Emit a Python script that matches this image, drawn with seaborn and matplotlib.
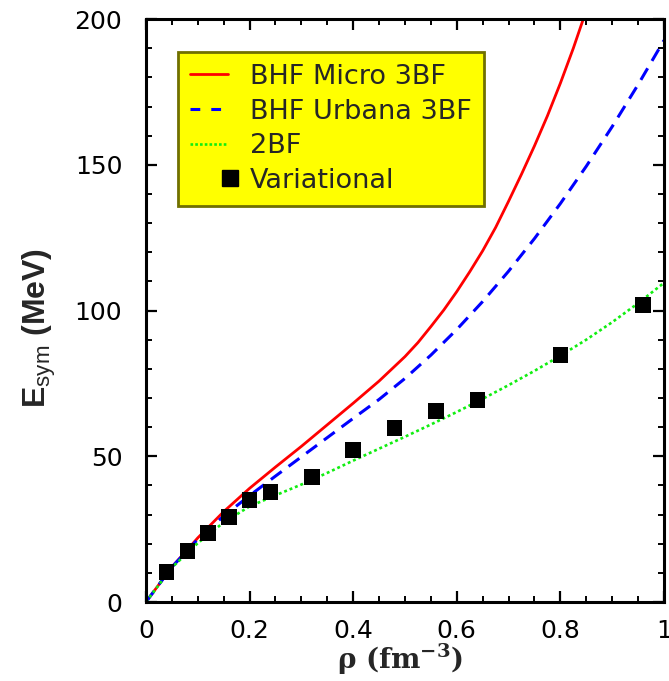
import numpy as np
import pandas as pd
import matplotlib
matplotlib.use("Agg")
import matplotlib.pyplot as plt
from matplotlib.lines import Line2D
from matplotlib.legend_handler import HandlerLine2D
from matplotlib.ticker import MultipleLocator
import seaborn as sns

# density grid (fm^-3) for the Urbana and 2BF curves
rho = [0.00, 0.05, 0.10, 0.15, 0.20, 0.25, 0.30, 0.35, 0.40, 0.45, 0.50,
       0.55, 0.60, 0.65, 0.70, 0.75, 0.80, 0.85, 0.90, 0.95, 1.00]
# symmetry energy (MeV)
esym_urbana = [0.0, 12.0, 21.5, 29.5, 36.5, 43.2, 49.8, 56.4, 63.0, 69.5, 76.7,
               84.7, 93.5, 103.1, 113.5, 124.7, 136.7, 149.5, 163.1, 177.5, 192.7]
esym_2bf = [0.0, 11.8, 20.2, 27.3, 32.8, 36.6, 40.3, 44.3, 48.5, 52.6, 56.7,
            60.9, 65.2, 69.7, 74.4, 79.3, 84.5, 90.0, 96.0, 102.5, 109.5]

# Micro 3BF curve, sampled more densely where it steepens
rho_micro = [0.00, 0.05, 0.10, 0.15, 0.20, 0.25, 0.30, 0.35, 0.40, 0.45, 0.50,
             0.525, 0.55, 0.575, 0.60, 0.625, 0.65, 0.675, 0.70, 0.725, 0.75,
             0.775, 0.80, 0.825, 0.85]
esym_micro = [0.0, 12.0, 22.0, 31.0, 39.0, 46.3, 53.4, 60.8, 68.2, 75.8, 84.2,
              89.0, 94.5, 100.2, 106.5, 113.3, 120.5, 128.5, 137.5, 146.8, 156.5,
              166.8, 178.0, 190.0, 203.0]

# variational results
rho_var = [0.04, 0.08, 0.12, 0.16, 0.20, 0.24, 0.32, 0.40, 0.48, 0.56, 0.64, 0.80, 0.96]
esym_var = [10.3, 17.5, 23.7, 29.2, 35.0, 37.7, 42.9, 52.1, 59.7, 65.5, 69.3, 84.7, 101.9]

labels = ["BHF Micro 3BF", "BHF Urbana 3BF", "2BF", "Variational"]

RED, BLUE, GREEN = "#ff0000", "#0000ff", "#11ee11"


class MarkerRight(HandlerLine2D):
    """Single legend marker placed at the right end of the handle."""
    def get_xdata(self, legend, xdescent, ydescent, width, height, fontsize):
        x0 = -xdescent
        xdata = np.array([x0 + 0.95 * width, x0 + 1.15 * width])
        return xdata, xdata


sns.set_theme(style="ticks")
plt.rcParams["font.family"] = ["DejaVu Sans"]
plt.rcParams["mathtext.fontset"] = "custom"
plt.rcParams["mathtext.rm"] = "Liberation Sans"
plt.rcParams["mathtext.it"] = "Liberation Sans:italic"
plt.rcParams["mathtext.bf"] = "Liberation Sans:bold"
plt.rcParams["mathtext.default"] = "regular"

fig = plt.figure(figsize=(6.69, 6.81), dpi=100)
ax = fig.add_axes([0.2182, 0.116, 0.7743, 0.856])

curves = pd.DataFrame({"rho": rho, "urbana": esym_urbana, "twobf": esym_2bf})
micro = pd.DataFrame({"rho": rho_micro, "esym": esym_micro})
points = pd.DataFrame({"rho": rho_var, "esym": esym_var})

sns.lineplot(data=micro, x="rho", y="esym", ax=ax, color=RED, linewidth=2.0)
sns.lineplot(data=curves, x="rho", y="urbana", ax=ax, color=BLUE, linewidth=2.2)
ax.lines[-1].set_dashes([4.4, 2.8])
sns.lineplot(data=curves, x="rho", y="twobf", ax=ax, color=GREEN, linewidth=1.9)
ax.lines[-1].set_dashes([1.1, 1.1])
sns.scatterplot(data=points, x="rho", y="esym", ax=ax, marker="s", s=125,
                color="black", edgecolor="none", zorder=5)

ax.set_xlim(0, 1)
ax.set_ylim(0, 200)
ax.xaxis.set_minor_locator(MultipleLocator(0.05))
ax.yaxis.set_major_locator(MultipleLocator(50))
ax.yaxis.set_minor_locator(MultipleLocator(10))
ax.set_xticks([0, 0.2, 0.4, 0.6, 0.8, 1.0])
ax.set_xticklabels(["0", "0.2", "0.4", "0.6", "0.8", "1"])

ax.tick_params(which="both", direction="in", top=True, right=True,
               colors="black", labelsize=18)
ax.tick_params(axis="x", pad=12)
ax.tick_params(axis="y", pad=17)
ax.tick_params(which="major", length=8, width=1.6)
ax.tick_params(which="minor", length=4.5, width=1.4)
for sp in ax.spines.values():
    sp.set_linewidth(2.2)
    sp.set_color("black")

ax.set_xlabel(r"ρ (fm$^{-3}$)", fontsize=20, fontweight="bold",
              family=["DejaVu Serif"])
ax.xaxis.set_label_coords(0.49, -0.069)
ax.set_ylabel(r"E$_{\mathrm{sym}}$ (MeV)", fontsize=23, fontweight="bold",
              family=["Liberation Sans"])
ax.yaxis.set_label_coords(-0.170, 0.47)

handles = [
    Line2D([], [], color=RED, linewidth=2.0),
    Line2D([], [], color=BLUE, linewidth=2.2, dashes=[3.2, 3.6]),
    Line2D([], [], color=GREEN, linewidth=1.9, dashes=[1.0, 0.8]),
    Line2D([], [], color="black", marker="s", markersize=11.5, linestyle="none"),
]
leg = ax.legend(handles, labels, loc="upper left",
                bbox_to_anchor=(0.062, 0.944), fontsize=19.5,
                frameon=True, fancybox=False, handlelength=1.4,
                handletextpad=0.8, labelspacing=0.32, borderpad=0.45,
                borderaxespad=0,
                handler_map={handles[3]: MarkerRight(numpoints=1)})
leg.get_frame().set_facecolor("#ffff00")
leg.get_frame().set_edgecolor("#707000")
leg.get_frame().set_linewidth(2.0)
leg.get_frame().set_alpha(1.0)

fig.savefig("out.png", dpi=100)
